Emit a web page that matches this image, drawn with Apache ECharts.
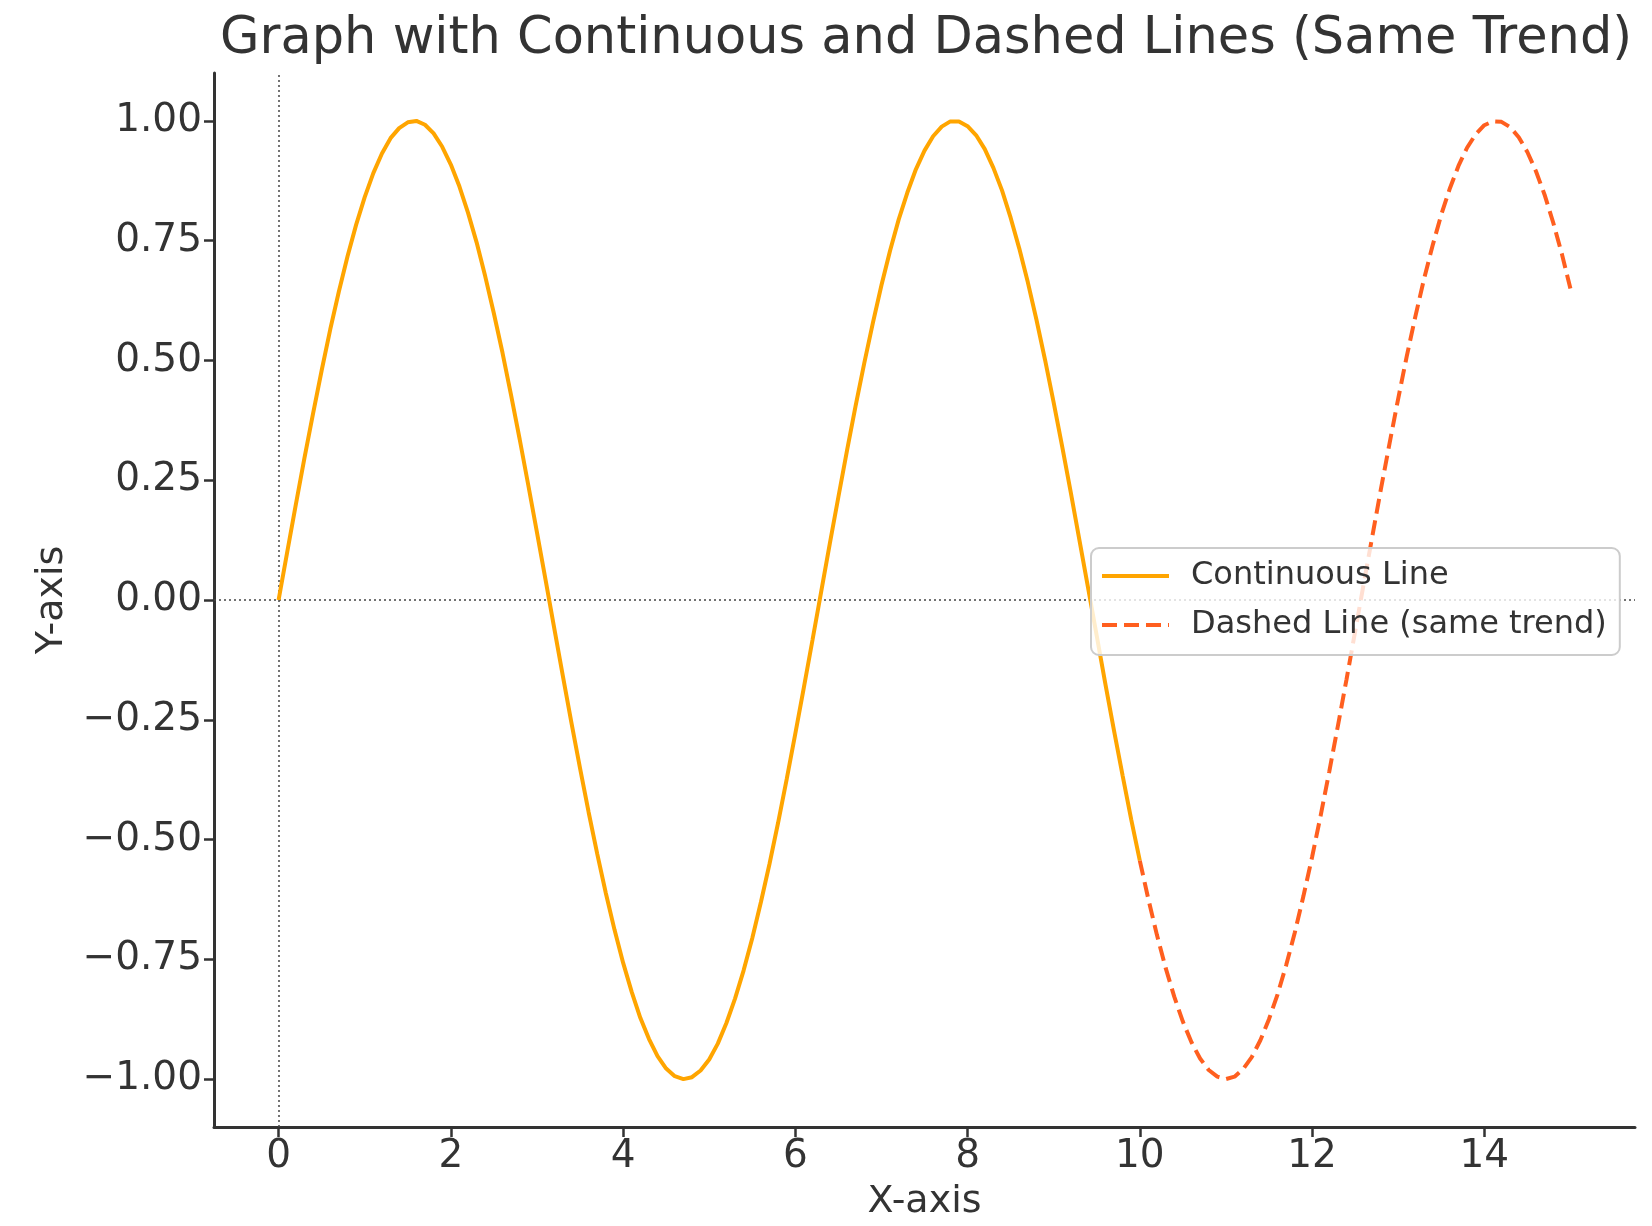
<!DOCTYPE html>
<html>
<head>
<meta charset="utf-8">
<script src="https://cdn.jsdelivr.net/npm/echarts@6/dist/echarts.min.js"></script>
<style>
html,body{margin:0;padding:0;background:#fff;}
#chart{width:1652px;height:1226px;}
</style>
</head>
<body>
<div id="chart"></div>
<script>
// Values (x step 0.1)
const continuousX = [0.0,0.1,0.2,0.3,0.4,0.5,0.6,0.7,0.8,0.9,1.0,1.1,1.2,1.3,1.4,1.5,1.6,1.7,1.8,1.9,2.0,2.1,2.2,2.3,2.4,2.5,2.6,2.7,2.8,2.9,3.0,3.1,3.2,3.3,3.4,3.5,3.6,3.7,3.8,3.9,4.0,4.1,4.2,4.3,4.4,4.5,4.6,4.7,4.8,4.9,5.0,5.1,5.2,5.3,5.4,5.5,5.6,5.7,5.8,5.9,6.0,6.1,6.2,6.3,6.4,6.5,6.6,6.7,6.8,6.9,7.0,7.1,7.2,7.3,7.4,7.5,7.6,7.7,7.8,7.9,8.0,8.1,8.2,8.3,8.4,8.5,8.6,8.7,8.8,8.9,9.0,9.1,9.2,9.3,9.4,9.5,9.6,9.7,9.8,9.9,10.0];
const continuousY = [0.000,0.100,0.199,0.296,0.389,0.479,0.565,0.644,0.717,0.783,0.841,0.891,0.932,0.964,0.985,0.997,1.000,0.992,0.974,0.946,0.909,0.863,0.808,0.746,0.675,0.598,0.516,0.427,0.335,0.239,0.141,0.042,-0.058,-0.158,-0.256,-0.351,-0.443,-0.530,-0.612,-0.688,-0.757,-0.818,-0.872,-0.916,-0.952,-0.978,-0.994,-1.000,-0.996,-0.982,-0.959,-0.926,-0.883,-0.832,-0.773,-0.706,-0.631,-0.551,-0.465,-0.374,-0.279,-0.182,-0.083,0.017,0.117,0.215,0.312,0.405,0.494,0.578,0.657,0.729,0.794,0.850,0.899,0.938,0.968,0.988,0.999,0.999,0.989,0.970,0.941,0.902,0.855,0.798,0.734,0.663,0.585,0.501,0.412,0.319,0.223,0.124,0.025,-0.075,-0.175,-0.272,-0.366,-0.458,-0.544];
const dashedX = [10.0,10.1,10.2,10.3,10.4,10.5,10.6,10.7,10.8,10.9,11.0,11.1,11.2,11.3,11.4,11.5,11.6,11.7,11.8,11.9,12.0,12.1,12.2,12.3,12.4,12.5,12.6,12.7,12.8,12.9,13.0,13.1,13.2,13.3,13.4,13.5,13.6,13.7,13.8,13.9,14.0,14.1,14.2,14.3,14.4,14.5,14.6,14.7,14.8,14.9,15.0];
const dashedY = [-0.544,-0.625,-0.700,-0.768,-0.828,-0.880,-0.923,-0.957,-0.981,-0.995,-1.000,-0.995,-0.979,-0.954,-0.919,-0.875,-0.823,-0.762,-0.694,-0.618,-0.537,-0.450,-0.358,-0.263,-0.166,-0.066,0.034,0.133,0.232,0.327,0.420,0.509,0.592,0.670,0.740,0.804,0.859,0.906,0.944,0.972,0.991,0.999,0.998,0.987,0.966,0.935,0.895,0.846,0.788,0.723,0.650];
const xTicks = [0,2,4,6,8,10,12,14];
const yTicks = [-1.00,-0.75,-0.50,-0.25,0.00,0.25,0.50,0.75,1.00];
const seriesNames = ['Continuous Line','Dashed Line (same trend)'];
const titleText = 'Graph with Continuous and Dashed Lines (Same Trend)';

const FONT = '"DejaVu Sans", sans-serif';
const TXT = '#333333';
const fmt = v => (Math.round(v*100)/100).toFixed(2).replace('-', '\u2212');

const chart = echarts.init(document.getElementById('chart'), null, {renderer:'canvas'});
chart.setOption({
  animation:false,
  backgroundColor:'#ffffff',
  title:{
    text:titleText, left:215, top:9,
    textStyle:{fontFamily:FONT, fontSize:51, fontWeight:'normal', color:TXT}
  },
  grid:{left:214, right:17, top:73, bottom:97, containLabel:false},
  legend:{
    orient:'vertical', left:1091, top:548,
    padding:[12,13,14,9],
    itemWidth:67, itemHeight:20, itemGap:17,
    backgroundColor:'rgba(255,255,255,0.8)',
    borderColor:'#cccccc', borderWidth:2, borderRadius:8,
    itemStyle:{color:'rgba(0,0,0,0)', borderColor:'rgba(0,0,0,0)', borderWidth:0, opacity:0},
    lineStyle:{width:4},
    textStyle:{fontFamily:FONT, fontSize:32, color:TXT, padding:[0,0,0,17]},
    data:seriesNames
  },
  xAxis:{
    type:'value', min:-0.75, max:15.75,
    name:'X-axis', nameLocation:'middle', nameGap:56,
    nameTextStyle:{fontFamily:FONT, fontSize:38, color:TXT},
    axisLine:{show:true, onZero:false, lineStyle:{color:'#333', width:3}},
    axisTick:{show:true, inside:false, length:10, customValues:xTicks, lineStyle:{color:'#333', width:2.5}},
    axisLabel:{show:true, margin:10, customValues:xTicks, fontFamily:FONT, fontSize:39, color:TXT,
      formatter:v=>String(v)},
    splitLine:{show:false}
  },
  yAxis:{
    type:'value', min:-1.1, max:1.1,
    name:'Y-axis', nameLocation:'middle', nameGap:140, nameRotate:90,
    nameTextStyle:{fontFamily:FONT, fontSize:38, color:TXT},
    axisLine:{show:true, onZero:false, lineStyle:{color:'#333', width:3}},
    axisTick:{show:true, inside:false, length:10, customValues:yTicks, lineStyle:{color:'#333', width:2.5}},
    axisLabel:{show:true, margin:12, customValues:yTicks, fontFamily:FONT, fontSize:39, color:TXT,
      formatter:v=>fmt(v)},
    splitLine:{show:false}
  },
  series:[
    {
      name:seriesNames[0], type:'line', symbol:'none', smooth:false,
      data:continuousX.map((x,i)=>[x,continuousY[i]]),
      lineStyle:{color:'#FFA500', width:4},
      itemStyle:{color:'#FFA500'},
      z:3,
      markLine:{
        silent:true, symbol:'none', label:{show:false},
        lineStyle:{color:'#444', width:1.5, type:[2,3]},
        data:[{xAxis:0},{yAxis:0}],
        z:1
      }
    },
    {
      name:seriesNames[1], type:'line', symbol:'none', smooth:false,
      data:dashedX.map((x,i)=>[x,dashedY[i]]),
      lineStyle:{color:'#FF5F1F', width:4, type:[15,7]},
      itemStyle:{color:'#FF5F1F'},
      z:3
    }
  ]
});
</script>
</body>
</html>
